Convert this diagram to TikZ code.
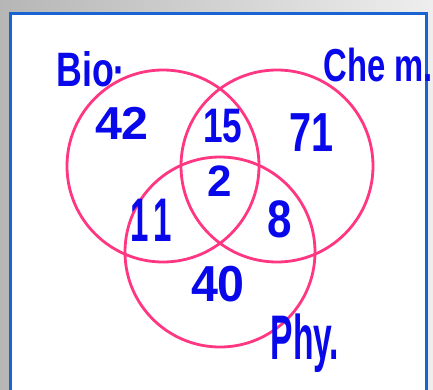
\documentclass[tikz,border=0pt]{standalone}
\usepackage{fontspec}
\setmainfont{Liberation Sans}
\definecolor{ink}{RGB}{8,8,235}
\definecolor{pinkline}{RGB}{255,55,130}
\definecolor{frameblue}{RGB}{25,100,210}
\tikzset{
  setcircle/.style={draw=pinkline, line width=2.8pt},
  num/.style={text=ink, font=\fontsize{44}{44}\selectfont\bfseries, inner sep=0pt},
  lbl/.style={text=ink, font=\fontsize{42}{42}\selectfont\bfseries, inner sep=0pt},
}
\begin{document}
\begin{tikzpicture}[x=1pt,y=-1pt]
\useasboundingbox (0,0) rectangle (433,389);
% background
\shade[left color={rgb,255:red,182;green,182;blue,182}, right color={rgb,255:red,238;green,238;blue,238}] (0,0) rectangle (433,389);
\fill[white] (10,13.5) rectangle (426.5,392);
\draw[frameblue, line width=3pt] (10,395) -- (10,13.5) -- (426.5,13.5) -- (426.5,395);
% circles
\draw[setcircle] (163,166) circle[radius=96];
\draw[setcircle] (277,166) circle[radius=96];
\draw[setcircle] (220,252) circle[radius=95];
% labels
\node[lbl] (bio) at (91,69) {\scalebox{0.85}[1.15]{Bio·}};
\node[lbl] (chem) at (378,65) {\scalebox{0.78}[1.1]{Che m.}};
\node[lbl] (phy) at (305,343) {\scalebox{0.8}[1.5]{Phy.}};
% numbers
\node[num] (n42) at (122,123) {\scalebox{1.1}[1.05]{42}};
\node[num] (n15) at (223,126) {\scalebox{0.8}[1.1]{15}};
\node[num] (n71) at (312,133) {\scalebox{0.9}[1.25]{71}};
\node[num] (n2) at (220,181) {2};
\node[num] (n11) at (151,220) {\scalebox{0.75}[1.4]{1\hspace{6pt}1}};
\node[num] (n8) at (280,219) {\scalebox{1}[1.2]{8}};
\node[num] (n40) at (218,284) {\scalebox{1.1}[1.15]{40}};
\end{tikzpicture}
\end{document}
